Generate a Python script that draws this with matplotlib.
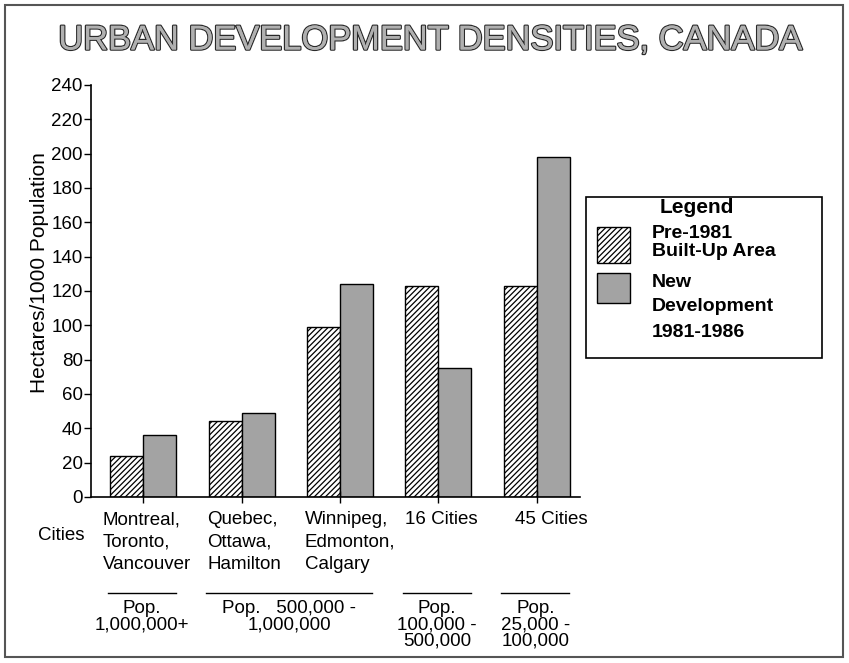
import matplotlib.pyplot as plt
import matplotlib.patheffects as pe
from matplotlib.patches import Rectangle
from matplotlib.lines import Line2D

plt.rcParams['font.family'] = ['Liberation Sans', 'DejaVu Sans']
plt.rcParams['hatch.linewidth'] = 0.9

cities = ['Montreal,\nToronto,\nVancouver', 'Quebec,\nOttawa,\nHamilton',
          'Winnipeg,\nEdmonton,\nCalgary', '16 Cities', '45 Cities']
pre_1981 = [24, 44, 99, 123, 123]
new_dev = [36, 49, 124, 75, 198]
yticks = list(range(0, 241, 20))

pop_groups = [
    ('Pop.\n1,000,000+', 0, 0),
    ('Pop.   500,000 -\n1,000,000', 1, 2),
    ('Pop.\n100,000 -\n500,000', 3, 3),
    ('Pop.\n25,000 -\n100,000', 4, 4),
]
legend_lines = ['Pre-1981', 'Built-Up Area', 'New', 'Development', '1981-1986']

fig = plt.figure(figsize=(8.49, 6.63), dpi=100)
ax = fig.add_axes([0.1072, 0.2504, 0.576, 0.6214])

w = 0.335
x = list(range(len(cities)))
ax.bar([i - w / 2 for i in x], pre_1981, w, color='white', edgecolor='black',
       hatch='//////', linewidth=1.0)
ax.bar([i + w / 2 for i in x], new_dev, w, color='#a3a3a3', edgecolor='black',
       linewidth=1.0)

ax.set_xlim(-0.53, 4.44)
ax.set_ylim(0, 240)
ax.set_yticks(yticks)
ax.set_xticks(x)
ax.set_xticklabels([])
ax.tick_params(axis='x', direction='inout', length=8, width=1)
ax.tick_params(axis='y', direction='out', length=5, width=1, labelsize=13.5, pad=1)
for s in ['top', 'right']:
    ax.spines[s].set_visible(False)
for s in ['left', 'bottom']:
    ax.spines[s].set_linewidth(1.2)
fig.text(40 / 849, 1 - 273 / 663, 'Hectares/1000 Population', fontsize=15,
         rotation=90, ha='center', va='center')

# category labels below the axis
xoff = [-0.41, -0.35, -0.36, -0.34, -0.22]
for i, lab in enumerate(cities):
    ax.text(i + xoff[i], -0.035, lab, transform=ax.get_xaxis_transform(),
            ha='left', va='top', fontsize=13.5, linespacing=1.42)
fig.text(38 / 849, 1 - 535 / 663, 'Cities', fontsize=13.5, ha='left', va='center')

# population group lines and labels
for lab, a, b in pop_groups:
    x0 = a - 0.36
    x1 = b + 0.33
    ax.add_line(Line2D([x0, x1], [-0.233, -0.233], transform=ax.get_xaxis_transform(),
                       color='black', linewidth=1.0, clip_on=False))
    ax.text((x0 + x1) / 2, -0.25, lab, transform=ax.get_xaxis_transform(),
            ha='center', va='top', fontsize=13.5, linespacing=0.95)

# legend box
lx0, ly0 = 586 / 849, 1 - 358 / 663
lw, lh = (822 - 586) / 849, (358 - 197) / 663
fig.add_artist(Rectangle((lx0, ly0), lw, lh, transform=fig.transFigure,
                         facecolor='white', edgecolor='black', linewidth=1.2))
fig.text(660 / 849, 1 - 213 / 663, 'Legend', fontsize=15, fontweight='bold',
         ha='left', va='baseline')
fig.add_artist(Rectangle((597 / 849, 1 - 263 / 663), 33 / 849, 36 / 663,
                         transform=fig.transFigure, facecolor='white',
                         edgecolor='black', hatch='//////', linewidth=1.0))
fig.add_artist(Rectangle((597 / 849, 1 - 303 / 663), 33 / 849, 30 / 663,
                         transform=fig.transFigure, facecolor='#a3a3a3',
                         edgecolor='black', linewidth=1.0))
for lab, yp in zip(legend_lines, [238, 256, 287, 311, 337]):
    fig.text(652 / 849, 1 - yp / 663, lab, fontsize=14, fontweight='bold',
             ha='left', va='baseline')

# title
fig.text(431 / 849, 1 - 41 / 663, 'URBAN DEVELOPMENT DENSITIES, CANADA', fontsize=24.8,
         ha='center', va='center', color='#b0b0b0',
         path_effects=[pe.withStroke(linewidth=1.8, foreground='#2a2a2a'), pe.Normal()])

# outer frame
fig.add_artist(Rectangle((5 / 849, 6 / 663), 838 / 849, 652 / 663,
                         transform=fig.transFigure, facecolor='none',
                         edgecolor='#555555', linewidth=1.5))

fig.savefig('out.png', dpi=100)
